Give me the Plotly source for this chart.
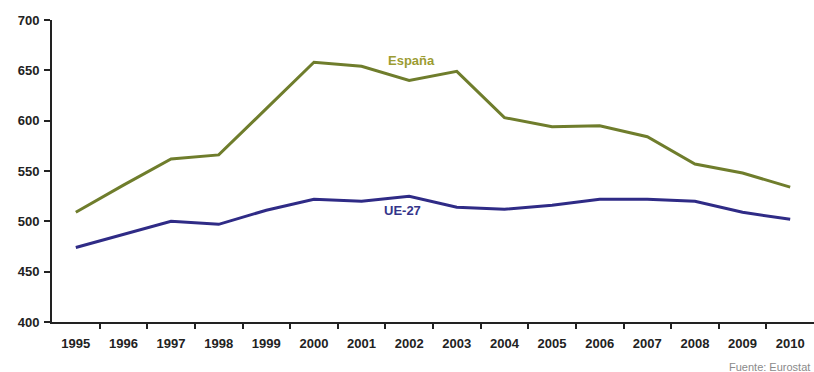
import plotly.graph_objects as go

years = list(range(1995, 2011))
espana = [509, 536, 562, 566, 612, 658, 654, 640, 649, 603, 594, 595, 584, 557, 548, 534]
ue27 = [474, 487, 500, 497, 511, 522, 520, 525, 514, 512, 516, 522, 522, 520, 509, 502]
tick_labels = [str(y) for y in years]

fig = go.Figure()
fig.add_trace(go.Scatter(x=years, y=espana, mode="lines",
                         line=dict(color="#6f7d2c", width=3), name="España"))
fig.add_trace(go.Scatter(x=years, y=ue27, mode="lines",
                         line=dict(color="#2f2b86", width=3), name="UE-27"))

lab_font = "Liberation Sans, Arial"
fig.add_annotation(x=2002.04, y=660, text="<b>España</b>", showarrow=False,
                   font=dict(family=lab_font, size=13, color="#9c9c32"))
fig.add_annotation(x=2001.85, y=511, text="<b>UE-27</b>", showarrow=False,
                   font=dict(family=lab_font, size=13, color="#34348a"))

fig.add_annotation(x=1.0, y=0, xref="paper", yref="paper", xanchor="right", yanchor="top",
                   yshift=-37, xshift=-2, text="Fuente: Eurostat", showarrow=False,
                   font=dict(family=lab_font, size=11, color="#8a8a8a"))

fig.update_layout(
    width=814, height=372,
    margin=dict(l=52, r=0, t=20, b=50),
    paper_bgcolor="white", plot_bgcolor="white",
    showlegend=False,
    font=dict(family=lab_font, size=11, color="#222"),
)
fig.update_xaxes(range=[1994.5, 2010.5], tickvals=years, ticktext=tick_labels,
                 ticks="", showline=True, linecolor="#222", linewidth=2,
                 showgrid=False, zeroline=False, ticklabelstandoff=8,
                 tickfont=dict(size=13, color="#222", weight="bold"),
                 minor=dict(tickvals=[y + 0.5 for y in years[:-1]], ticks="outside",
                            ticklen=5, tickcolor="#222", tickwidth=2, showgrid=False))
fig.update_yaxes(range=[400, 700], dtick=50, ticks="outside", ticklen=6, tickwidth=2,
                 tickcolor="#222", showline=True, linecolor="#222", linewidth=2,
                 showgrid=False, zeroline=False, ticklabelstandoff=2,
                 tickfont=dict(size=13, color="#222", weight="bold"))

fig.write_html("out.html")
